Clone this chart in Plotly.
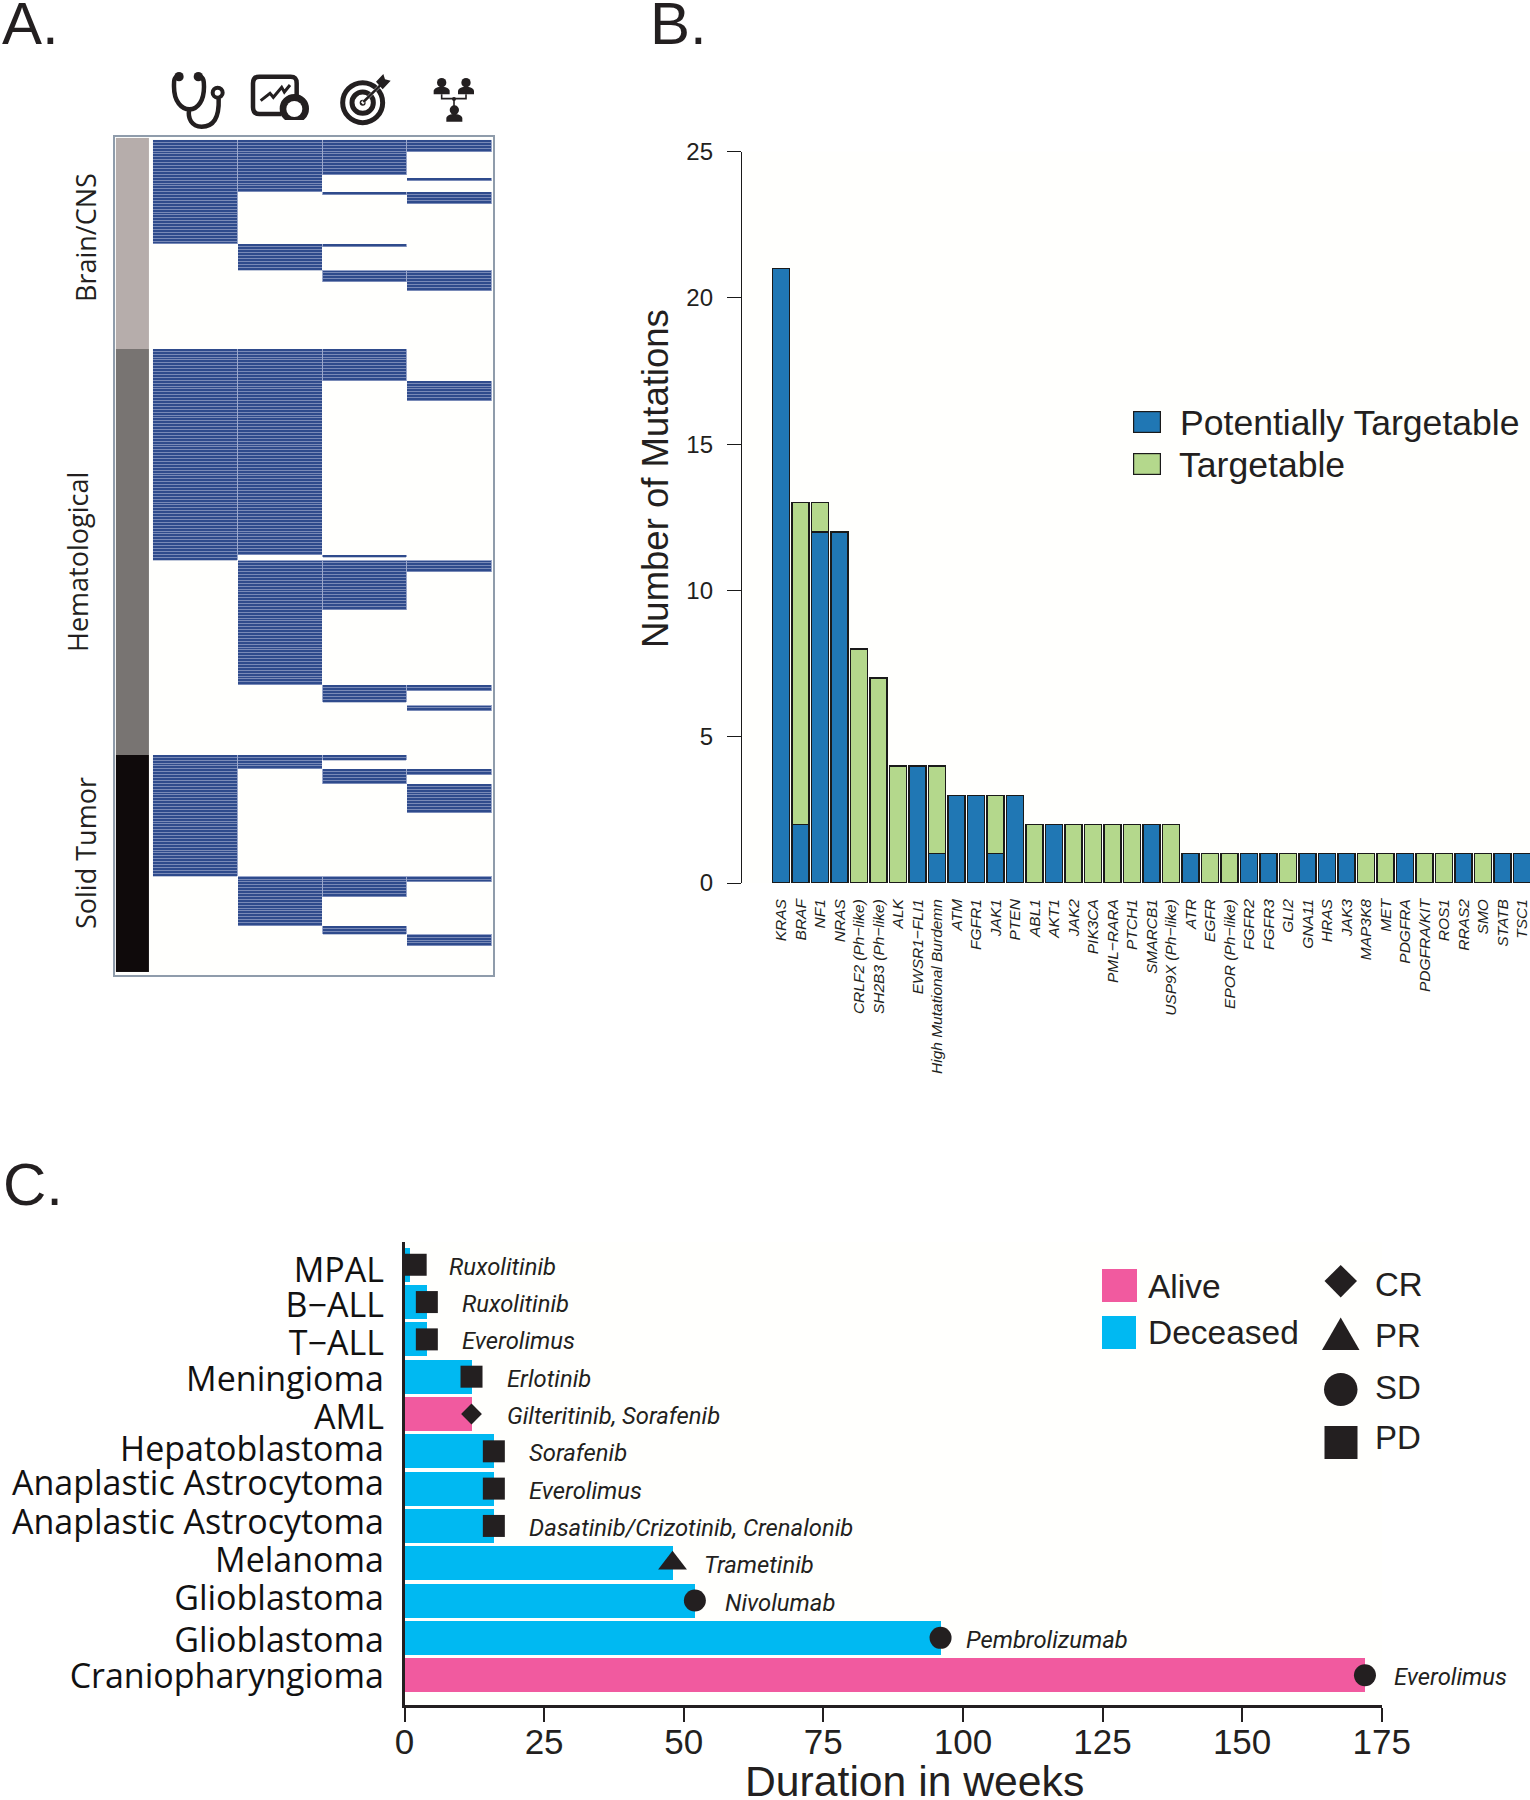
import re
import numpy as np
import plotly.graph_objects as go

W, H = 1530, 1800

# ---------- Panel A data (sample row spans per column) ----------
N_ROWS = 287
clinical_rows = [(0, 36), (72, 145), (212, 254)]
molecular_rows = [(0, 18), (36, 45), (72, 143), (145, 188), (212, 217), (254, 271)]
targeted_rows = [(0, 12), (18, 19), (36, 37), (45, 49), (72, 83), (143, 144), (145, 162),
                 (188, 194), (212, 214), (217, 222), (254, 261), (271, 274)]
tumorboard_rows = [(0, 4), (13, 14), (18, 22), (45, 52), (83, 90), (145, 149), (188, 190),
                   (195, 197), (217, 219), (222, 232), (254, 256), (274, 278)]
group_names = ["Brain/CNS", "Hematological", "Solid Tumor"]
group_edges = [-0.7, 72, 212, 287]
group_colors = ["#b6adab", "#787472", "#0f0a0b"]

# ---------- Panel B data ----------
genes = ["KRAS", "BRAF", "NF1", "NRAS", "CRLF2 (Ph−like)", "SH2B3 (Ph−like)", "ALK", "EWSR1−FLI1",
         "High Mutational Burdemn", "ATM", "FGFR1", "JAK1", "PTEN", "ABL1", "AKT1", "JAK2", "PIK3CA",
         "PML−RARA", "PTCH1", "SMARCB1", "USP9X (Ph−like)", "ATR", "EGFR", "EPOR (Ph−like)", "FGFR2",
         "FGFR3", "GLI2", "GNA11", "HRAS", "JAK3", "MAP3K8", "MET", "PDGFRA", "PDGFRA/KIT", "ROS1",
         "RRAS2", "SMO", "STATB", "TSC1"]
potentially = [21, 2, 12, 12, 0, 0, 0, 4, 1, 3, 3, 1, 3, 0, 2, 0, 0, 0, 0, 2, 0, 1, 0, 0, 1, 1, 0,
               1, 1, 1, 0, 0, 1, 0, 0, 1, 0, 1, 1]
targetable = [0, 11, 1, 0, 8, 7, 4, 0, 3, 0, 0, 2, 0, 2, 0, 2, 2, 2, 2, 0, 2, 0, 1, 1, 0, 0, 1,
              0, 0, 0, 1, 1, 0, 1, 1, 0, 1, 0, 0]

# ---------- Panel C data ----------
diagnoses = ["MPAL", "B−ALL", "T−ALL", "Meningioma", "AML", "Hepatoblastoma", "Anaplastic Astrocytoma",
             "Anaplastic Astrocytoma", "Melanoma", "Glioblastoma", "Glioblastoma", "Craniopharyngioma"]
diagnosis_label_rows = [0.13, 1.08, 2.10, 3.06, 4.08, 4.95, 5.85, 6.90, 7.91, 8.94, 10.07, 11.03]
weeks = [1, 4, 4, 12, 12, 16, 16, 16, 48, 52, 96, 172]
status = ["Deceased"] * 4 + ["Alive"] + ["Deceased"] * 6 + ["Alive"]
response = ["PD", "PD", "PD", "PD", "CR", "PD", "PD", "PD", "PR", "SD", "SD", "SD"]
response_x = [2, 4, 4, 12, 12, 16, 16, 16, 48, 52, 96, 172]
therapy = ["Ruxolitinib", "Ruxolitinib", "Everolimus", "Erlotinib", "Gilteritinib, Sorafenib", "Sorafenib",
           "Everolimus", "Dasatinib/Crizotinib, Crenalonib", "Trametinib", "Nivolumab", "Pembrolizumab",
           "Everolimus"]
therapy_gap = [37, 33, 33, 33, 33, 33, 33, 33, 29, 28, 23.5, 27.5]

BLUE, GREEN = "#2077b4", "#b4d88c"
PINK, CYAN = "#f15a9f", "#00b9f2"
INK = "#231f20"
NAVY = "#2f4b8c"
NAVY_LIGHT = "#9aa7cb"
SANS = "Liberation Sans"
HUMANIST = "Open Sans"
NARROW = "Roboto"


def fx(px):
    return px / W


def fy(py):
    return 1 - py / H


def dom_x(a, b):
    return [fx(a), fx(b)]


def dom_y(top, bottom):
    return [fy(bottom), fy(top)]


fig = go.Figure()

# ---------- Panel A ----------
z = np.zeros((N_ROWS, 4))
for col, spans in enumerate([clinical_rows, molecular_rows, targeted_rows, tumorboard_rows]):
    for a, b in spans:
        z[a:min(b, N_ROWS), col] = 1
row_centres = np.arange(N_ROWS) + 0.5
fig.add_trace(go.Heatmap(z=z, x=[0.5, 1.5, 2.5, 3.5], y=row_centres, xaxis="x", yaxis="y",
                         colorscale=[[0, "rgba(154,167,203,0)"], [1, NAVY_LIGHT]], zmin=0, zmax=1, showscale=False,
                         hoverinfo="skip"))
fig.add_trace(go.Heatmap(z=z, x=[0.5, 1.5, 2.5, 3.5], y=row_centres, xaxis="x", yaxis="y",
                         colorscale=[[0, "rgba(47,75,140,0)"], [1, NAVY]], zmin=0, zmax=1, showscale=False,
                         xgap=1, ygap=0.7, hoverinfo="skip"))
fig.add_trace(go.Heatmap(z=[[0], [1], [2]], x=[-0.437, -0.047], y=group_edges, xaxis="x", yaxis="y",
                         colorscale=[[0, group_colors[0]], [0.5, group_colors[1]], [1, group_colors[2]]],
                         zmin=0, zmax=2, showscale=False, hoverinfo="skip"))

# ---------- Panel B ----------
fig.add_trace(go.Bar(x=list(range(len(genes))), y=potentially, name="Potentially Targetable", xaxis="x2", yaxis="y2",
                     marker=dict(color=BLUE, line=dict(color="#1a1a1a", width=1.4)), width=0.88, showlegend=False))
fig.add_trace(go.Bar(x=list(range(len(genes))), y=targetable, name="Targetable", xaxis="x2", yaxis="y2",
                     marker=dict(color=GREEN, line=dict(color="#1a1a1a", width=1.4)), width=0.88, showlegend=False))

# ---------- Panel C ----------
rows = list(range(len(diagnoses)))
fig.add_trace(go.Bar(x=weeks, y=rows, orientation="h", xaxis="x3", yaxis="y3", width=0.91, showlegend=False,
                     marker=dict(color=[PINK if s == "Alive" else CYAN for s in status], line=dict(width=0))))
sym = {"CR": "diamond", "PR": "triangle-up", "SD": "circle", "PD": "square"}
siz = {"CR": 16, "PR": 25, "SD": 22, "PD": 22}
fig.add_trace(go.Scatter(x=response_x, y=rows, mode="markers", xaxis="x3", yaxis="y3", showlegend=False,
                         cliponaxis=False,
                         marker=dict(symbol=[sym[r] for r in response], size=[siz[r] for r in response],
                                     color=INK, opacity=1, line=dict(width=0))))

# ---------- Decoration helpers ----------
shapes, notes = [], []

for wk, row, label, gap in zip(weeks, rows, therapy, therapy_gap):
    notes.append(dict(x=wk, y=row, xref="x3", yref="y3", text=label, showarrow=False, xanchor="left",
                      yanchor="middle", xshift=gap, yshift=-2,
                      font=dict(family=NARROW, size=23.8, color=INK, style="italic")))


def text(px, py, s, size, family=SANS, anchor="left", angle=0, color=INK):
    notes.append(dict(x=fx(px), y=fy(py), xref="paper", yref="paper", text=s, showarrow=False, xanchor=anchor,
                      yanchor="middle", textangle=angle, font=dict(family=family, size=size, color=color)))


def rect(x0, y0, x1, y1, color):
    shapes.append(dict(type="rect", xref="paper", yref="paper", x0=fx(x0), x1=fx(x1), y0=fy(y0), y1=fy(y1),
                       fillcolor=color, line=dict(width=0), layer="above"))


def zpath(s, fill=None, width=0, color=INK):
    """Decorative icon path, written in pixels of the icon strip (3x) and mapped to paper."""
    toks = re.findall(r"[A-Za-z]|-?\d+\.?\d*", s)
    out, i = [], 0
    for t in toks:
        if t.isalpha():
            out.append(t)
        else:
            v = float(t)
            out.append(f"{fx(100 + v / 3):.5f}" if i % 2 == 0 else f"{fy(50 + v / 3):.5f}")
            i += 1
    shapes.append(dict(type="path", xref="paper", yref="paper", path=" ".join(out), layer="above",
                       fillcolor=fill if fill else "rgba(0,0,0,0)", line=dict(width=width, color=color)))


def zcircle(cx, cy, r, fill=None, width=0, color=INK):
    shapes.append(dict(type="circle", xref="paper", yref="paper", layer="above",
                       x0=fx(100 + (cx - r) / 3), x1=fx(100 + (cx + r) / 3),
                       y0=fy(50 + (cy - r) / 3), y1=fy(50 + (cy + r) / 3),
                       fillcolor=fill if fill else "rgba(0,0,0,0)", line=dict(width=width, color=color)))


# Stethoscope
zpath("M 235 78 C 220 82 222 95 222 110 C 222 155 245 178 268 178 C 295 178 312 150 312 110 C 312 95 312 82 297 78", width=4.5)
zpath("M 268 178 C 262 205 275 230 305 230 C 340 230 358 205 356 146", width=4.5)
zcircle(237, 80, 14, fill=INK)
zcircle(295, 80, 14, fill=INK)
zcircle(353, 128, 15, fill="white", width=4)
# Chart with person
zpath("M 478 80 L 572 80 C 585 80 590 86 590 100 L 590 150 M 545 192 L 478 192 C 465 192 459 186 459 172 L 459 100 C 459 86 465 80 478 80", width=4.5)
zpath("M 482 152 L 510 130 L 520 142 L 545 112 L 553 126 L 570 105", width=3)
zcircle(583, 176, 44, fill=INK)
zpath("M 535 210 L 630 210 L 630 232 L 535 232 Z", fill="white")
zcircle(583, 177, 24, fill="white")
# Target
zcircle(788, 158, 60, width=5)
zcircle(788, 158, 32, width=5)
zcircle(788, 158, 9, fill=INK)
zpath("M 786 160 L 850 97", width=3, color="white")
zpath("M 790 156 L 850 97", width=2.5)
zpath("M 828 95 L 850 72 L 855 88 L 872 92 L 848 118 Z", fill=INK)
# Team
for cx, cy in [(1025, 98), (1098, 98), (1063, 180)]:
    zcircle(cx, cy, 14, fill=INK)
    zpath(f"M {cx - 24} {cy + 35} L {cx - 24} {cy + 24} C {cx - 20} {cy + 8} {cx + 20} {cy + 8} {cx + 24} {cy + 24} L {cx + 24} {cy + 35} Z", fill=INK)
zpath("M 1025 133 L 1025 146 L 1098 146 L 1098 133 M 1062 146 L 1062 168", width=1.6)
zcircle(1062, 147, 6, fill=INK)

# Panel letters
text(0, 24, "A.", 60)
text(648, 24, "B.", 60)
text(1, 1184, "C.", 60)

# Group labels
text(85, 238, group_names[0], 27, HUMANIST, "center", -90)
text(78, 562, group_names[1], 27, HUMANIST, "center", -90)
text(85, 853, group_names[2], 27, HUMANIST, "center", -90)

# Axis titles
text(655, 479, "Number of Mutations", 36.5, SANS, "center", -90)
text(914, 1781, "Duration in weeks", 42.7, SANS, "center")

# Panel B legend
rect(1133, 411, 1161, 433, "#1a1a1a")
rect(1134.2, 412.2, 1159.8, 431.8, BLUE)
rect(1133, 453, 1161, 475, "#1a1a1a")
rect(1134.2, 454.2, 1159.8, 473.8, GREEN)
text(1178, 423, "Potentially Targetable", 35.6)
text(1177, 465, "Targetable", 35.6)

# Panel C legend
rect(1102, 1269, 1137, 1302, PINK)
rect(1102, 1316, 1136, 1349, CYAN)
text(1146, 1286, "Alive", 33.5)
text(1146, 1332, "Deceased", 33.5)


def pxpath(pts):
    return "M " + " L ".join(f"{fx(a):.5f} {fy(b):.5f}" for a, b in pts) + " Z"


shapes.append(dict(type="path", xref="paper", yref="paper", layer="above", fillcolor=INK, line=dict(width=0),
                   path=pxpath([(1340.7, 1265), (1357, 1281), (1340.7, 1297.5), (1324.5, 1281)])))
shapes.append(dict(type="path", xref="paper", yref="paper", layer="above", fillcolor=INK, line=dict(width=0),
                   path=pxpath([(1340.7, 1317.5), (1359.5, 1350), (1322, 1350)])))
shapes.append(dict(type="circle", xref="paper", yref="paper", layer="above", fillcolor=INK, line=dict(width=0),
                   x0=fx(1324), x1=fx(1357.5), y0=fy(1406), y1=fy(1373)))
rect(1324.5, 1426, 1357.5, 1459, INK)
text(1373, 1284, "CR", 33)
text(1373, 1335, "PR", 33)
text(1373, 1387, "SD", 33)
text(1373, 1437, "PD", 33)

# ---------- Layout ----------
BOX = "#8f9cab"
fig.update_layout(
    template="none",
    width=W, height=H, autosize=False, margin=dict(l=0, r=0, t=0, b=0, pad=0),
    paper_bgcolor="white", plot_bgcolor="#fffffd", barmode="stack", bargap=0.12, showlegend=False,
    shapes=shapes, annotations=notes,
    font=dict(family=SANS, color=INK),
    xaxis=dict(domain=dom_x(115, 493), range=[-0.448, 4.01], showticklabels=False, ticks="", showgrid=False,
               zeroline=False, showline=True, mirror=True, linecolor=BOX, linewidth=1.5, automargin=False),
    yaxis=dict(domain=dom_y(137, 975), range=[287.9, -1.03], showticklabels=False, ticks="", showgrid=False,
               zeroline=False, showline=True, mirror=True, linecolor=BOX, linewidth=1.5, automargin=False),
    xaxis2=dict(domain=dom_x(742, 1530), range=[-2, 38.41], anchor="y2", tickmode="array", automargin=False,
                tickvals=list(range(len(genes))), ticktext=genes, tickangle=-90, ticks="", ticklabelstandoff=12,
                ticklabeloverflow="allow",
                tickfont=dict(family=SANS, size=15.5, style="italic", color=INK), showgrid=False, zeroline=False,
                showline=False),
    yaxis2=dict(domain=dom_y(151.5, 883), range=[0, 25], anchor="x2", tickmode="array", automargin=False,
                tickvals=[0, 5, 10, 15, 20, 25], ticks="outside", ticklen=14, tickwidth=1.3, tickcolor="#1a1a1a",
                ticklabelstandoff=9,
                tickfont=dict(family=SANS, size=24, color=INK), showgrid=False, zeroline=False, showline=True,
                linecolor="#1a1a1a", linewidth=1.3),
    xaxis3=dict(domain=dom_x(404.5, 1381.7), range=[0, 175], anchor="y3", tickmode="array", automargin=False,
                tickvals=[0, 25, 50, 75, 100, 125, 150, 175], ticks="outside", ticklen=14, tickwidth=2,
                ticklabelstandoff=-10,
                tickcolor=INK, tickfont=dict(family=SANS, size=35, color=INK), showgrid=False, zeroline=False,
                showline=True, linecolor=INK, linewidth=2.5),
    yaxis3=dict(domain=dom_y(1242, 1705.4), range=[11.81, -0.61], anchor="x3", tickmode="array", automargin=False,
                tickvals=diagnosis_label_rows, ticktext=diagnoses, ticks="", ticklabelstandoff=11,
                tickfont=dict(family=HUMANIST, size=34, color="#111111"), showgrid=False, zeroline=False,
                showline=True, linecolor=INK, linewidth=2.5),
)

fig.write_html("out.html", config={"displayModeBar": False}, post_script="document.body.style.margin='0';")
